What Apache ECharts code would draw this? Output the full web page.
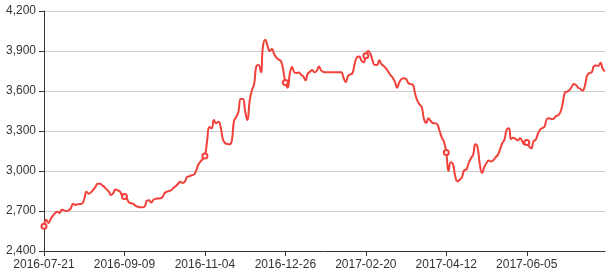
<!DOCTYPE html>
<html>
<head>
<meta charset="utf-8">
<script src="https://cdn.jsdelivr.net/npm/echarts@6/dist/echarts.min.js"></script>
<style>html,body{margin:0;padding:0;background:#fff}#c{width:609px;height:273px}</style>
</head>
<body>
<div id="c"></div>
<script>
var dates = [
'2016-07-21','2016-07-22','2016-07-25','2016-07-26','2016-07-27','2016-07-28','2016-07-29',
'2016-08-01','2016-08-02','2016-08-03','2016-08-04','2016-08-05','2016-08-08','2016-08-09','2016-08-10','2016-08-11','2016-08-12',
'2016-08-15','2016-08-16','2016-08-17','2016-08-18','2016-08-19','2016-08-22','2016-08-23','2016-08-24','2016-08-25','2016-08-26',
'2016-08-29','2016-08-30','2016-08-31','2016-09-01','2016-09-02','2016-09-05','2016-09-06','2016-09-07','2016-09-08','2016-09-09',
'2016-09-12','2016-09-13','2016-09-14','2016-09-18','2016-09-19','2016-09-20','2016-09-21','2016-09-22','2016-09-23',
'2016-09-26','2016-09-27','2016-09-28','2016-09-29','2016-09-30',
'2016-10-08','2016-10-09','2016-10-10','2016-10-11','2016-10-12','2016-10-13','2016-10-14','2016-10-17','2016-10-18','2016-10-19','2016-10-20','2016-10-21',
'2016-10-24','2016-10-25','2016-10-26','2016-10-27','2016-10-28','2016-10-31','2016-11-01','2016-11-02','2016-11-03','2016-11-04',
'2016-11-07','2016-11-08','2016-11-09','2016-11-10','2016-11-11','2016-11-14','2016-11-15','2016-11-16','2016-11-17','2016-11-18',
'2016-11-21','2016-11-22','2016-11-23','2016-11-24','2016-11-25','2016-11-28','2016-11-29','2016-11-30','2016-12-01','2016-12-02',
'2016-12-05','2016-12-06','2016-12-07','2016-12-08','2016-12-09','2016-12-12','2016-12-13','2016-12-14','2016-12-15','2016-12-16',
'2016-12-19','2016-12-20','2016-12-21','2016-12-22','2016-12-23','2016-12-26',
'2016-12-27','2016-12-28','2016-12-29','2016-12-30','2017-01-03','2017-01-04','2017-01-05','2017-01-06',
'2017-01-09','2017-01-10','2017-01-11','2017-01-12','2017-01-13','2017-01-16','2017-01-17','2017-01-18','2017-01-19','2017-01-20',
'2017-01-22','2017-01-23','2017-01-24','2017-01-25','2017-01-26','2017-02-03','2017-02-04',
'2017-02-06','2017-02-07','2017-02-08','2017-02-09','2017-02-10','2017-02-13','2017-02-14','2017-02-15','2017-02-16','2017-02-17','2017-02-20',
'2017-02-21','2017-02-22','2017-02-23','2017-02-24','2017-02-27','2017-02-28','2017-03-01','2017-03-02','2017-03-03',
'2017-03-06','2017-03-07','2017-03-08','2017-03-09','2017-03-10','2017-03-13','2017-03-14','2017-03-15','2017-03-16','2017-03-17',
'2017-03-20','2017-03-21','2017-03-22','2017-03-23','2017-03-24','2017-03-27','2017-03-28','2017-03-29','2017-03-30','2017-03-31',
'2017-04-01','2017-04-05','2017-04-06','2017-04-07','2017-04-10','2017-04-11','2017-04-12',
'2017-04-13','2017-04-14','2017-04-17','2017-04-18','2017-04-19','2017-04-20','2017-04-21','2017-04-24','2017-04-25','2017-04-26','2017-04-27','2017-04-28',
'2017-05-02','2017-05-03','2017-05-04','2017-05-05','2017-05-08','2017-05-09','2017-05-10','2017-05-11','2017-05-12',
'2017-05-15','2017-05-16','2017-05-17','2017-05-18','2017-05-19','2017-05-22','2017-05-23','2017-05-24','2017-05-25','2017-05-26',
'2017-05-27','2017-05-31','2017-06-01','2017-06-02','2017-06-05',
'2017-06-06','2017-06-07','2017-06-08','2017-06-09','2017-06-12','2017-06-13','2017-06-14','2017-06-15','2017-06-16',
'2017-06-19','2017-06-20','2017-06-21','2017-06-22','2017-06-23','2017-06-26','2017-06-27','2017-06-28','2017-06-29','2017-06-30',
'2017-07-03','2017-07-04','2017-07-05','2017-07-06','2017-07-07','2017-07-10','2017-07-11','2017-07-12','2017-07-13','2017-07-14',
'2017-07-17','2017-07-18','2017-07-19','2017-07-20','2017-07-21','2017-07-24'
];
var prices = [
2585,2635,2610,2640,2665,2685,2695,2685,2710,2705,2700,2705,
2720,2755,2745,2750,2752,2755,2790,2845,2830,2840,2858,2880,
2905,2905,2893,2880,2862,2845,2820,2835,2862,2855,2845,2815,
2808,2795,2765,2758,2753,2738,2732,2728,2728,2733,2775,2780,
2763,2785,2792,2794,2795,2805,2835,2845,2850,2858,2875,2888,
2905,2920,2910,2920,2955,2960,2968,2972,3000,3045,3070,3090,
3113,3230,3330,3320,3383,3358,3370,3333,3240,3210,3203,3200,
3225,3375,3405,3445,3540,3540,3450,3383,3525,3605,3650,3785,
3795,3740,3940,3985,3940,3900,3915,3875,3850,3835,3825,3760,
3663,3625,3733,3780,3740,3735,3738,3722,3710,3680,3730,3745,
3758,3740,3750,3783,3755,3742,3740,3740,3740,3740,3740,3740,
3740,3740,3700,3665,3710,3725,3733,3805,3852,3858,3830,3815,
3865,3900,3880,3830,3795,3795,3830,3800,3788,3770,3745,3720,
3700,3670,3625,3665,3690,3695,3690,3660,3652,3648,3583,3530,
3500,3480,3390,3360,3395,3375,3360,3358,3348,3300,3250,3215,
3138,3000,3065,3050,2960,2922,2935,2955,3005,3012,3060,3095,
3122,3200,3175,3050,2985,3030,3060,3078,3072,3080,3102,3120,
3160,3208,3235,3310,3320,3240,3250,3240,3230,3245,3222,3200,
3213,3185,3170,3222,3235,3280,3310,3322,3335,3390,3395,3390,
3392,3410,3418,3440,3500,3585,3595,3605,3628,3652,3645,3625,
3615,3603,3640,3715,3735,3740,3785,3792,3788,3812,3765,3750
];
var yMin = 2400, yMax = 4200, yStep = 300;

var chart = echarts.init(document.getElementById('c'), null, {renderer: 'canvas'});
chart.setOption({
  animation: false,
  grid: {left: 44, right: 4, top: 11, bottom: 22, containLabel: false},
  xAxis: {
    type: 'category',
    data: dates,
    boundaryGap: false,
    axisLine: {lineStyle: {color: '#333'}},
    axisTick: {show: true, interval: 35, lineStyle: {color: '#333'}},
    axisLabel: {interval: 35, color: '#333', fontSize: 12, margin: 8}
  },
  yAxis: {
    type: 'value',
    min: yMin, max: yMax, interval: yStep,
    axisLine: {show: true, lineStyle: {color: '#333'}},
    axisTick: {show: true, lineStyle: {color: '#333'}},
    axisLabel: {color: '#333', fontSize: 12, margin: 8},
    splitLine: {lineStyle: {color: '#ccc'}}
  },
  series: [{
    type: 'line',
    data: prices,
    smooth: true,
    symbol: 'emptyCircle',
    symbolSize: 5,
    showSymbol: true,
    lineStyle: {color: '#f2413a', width: 2},
    itemStyle: {color: '#f2413a'}
  }]
});
</script>
</body>
</html>
